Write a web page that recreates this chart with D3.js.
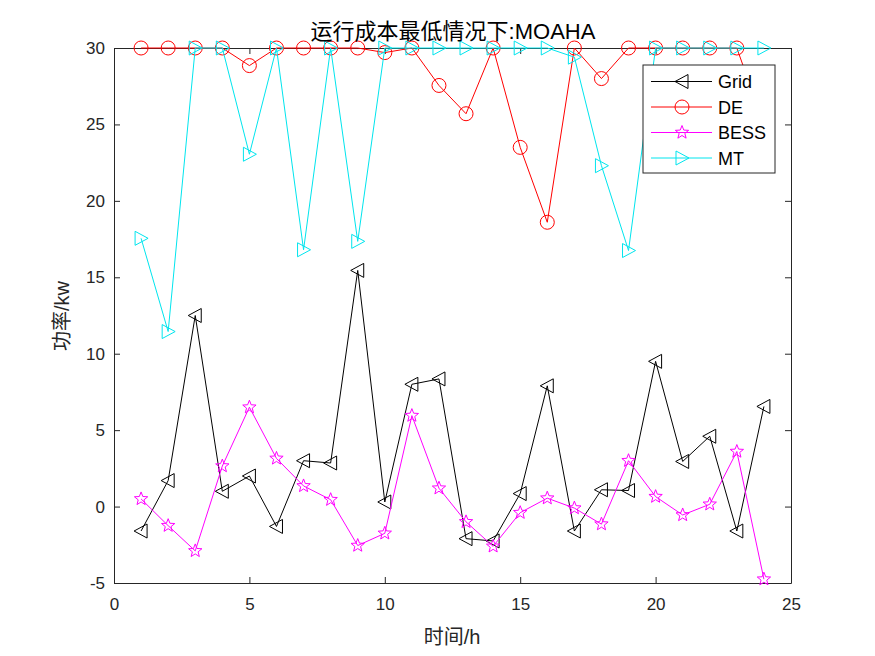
<!DOCTYPE html>
<html>
<head>
<meta charset="utf-8">
<script src="https://cdn.jsdelivr.net/npm/d3@7"></script>
<style>
  body { margin: 0; background: #fff; }
  svg text { font-family: "Liberation Sans", Arial, "Noto Sans CJK SC", sans-serif; }
</style>
</head>
<body>
<div id="canvas"></div>
<script>
"use strict"

// hours 1..24
let hours = d3.range(1, 25);

let gridValues = [-1.6, 1.7, 12.5, 1.0, 2.0, -1.3, 3.0, 2.85, 15.45, 0.3, 8.0, 8.35,
    -2.1, -2.25, 0.85, 7.9, -1.6, 1.1, 1.05, 9.5, 2.95, 4.6, -1.6, 6.55];
let deValues = [30, 30, 30, 30, 28.85, 30, 30, 30, 30, 29.7, 30, 27.55,
    25.7, 30, 23.5, 18.6, 30, 28.0, 30, 30, 30, 30, 30, 25];
let bessValues = [0.5, -1.25, -2.9, 2.65, 6.5, 3.15, 1.35, 0.45, -2.55, -1.75, 5.95, 1.2,
    -1.0, -2.6, -0.4, 0.55, -0.1, -1.15, 3.0, 0.65, -0.55, 0.15, 3.6, -4.75];
let mtValues = [17.55, 11.45, 30, 30, 23.05, 30, 16.8, 30, 17.35, 30, 30, 30,
    30, 30, 30, 30, 29.4, 22.3, 16.75, 30, 30, 30, 30, 30];

let xTicks = [0, 5, 10, 15, 20, 25];
let yTicks = [-5, 0, 5, 10, 15, 20, 25, 30];

let seriesNames = ["Grid", "DE", "BESS", "MT"];
let seriesColors = ["#000000", "#ff0000", "#ff00ff", "#00e5ee"];
let seriesMarkers = ["triLeft", "circle", "star", "triRight"];

let drawing = d3.select("#canvas")
    .append("svg")
    .attr("width", 875)
    .attr("height", 656);

let plotLeft = 114, plotRight = 791, plotTop = 48, plotBottom = 583;

let xScale = d3.scaleLinear().domain([0, 25]).range([plotLeft, plotRight]);
let yScale = d3.scaleLinear().domain([-5, 30]).range([plotBottom, plotTop]);

// plain hyphen for negatives, like the original
let plainNumber = d => String(d);

/* axes with inward ticks on all four sides */
let tickStyle = function (g) {
    g.select(".domain").attr("stroke", "#262626");
    g.selectAll(".tick line").attr("stroke", "#262626");
    g.selectAll(".tick text").attr("fill", "#262626").attr("font-size", 17);
};

drawing.append("g")
    .attr("transform", "translate(0," + plotBottom + ")")
    .call(d3.axisBottom(xScale).tickValues(xTicks).tickSizeInner(-6).tickSizeOuter(0)
        .tickPadding(15).tickFormat(plainNumber))
    .call(tickStyle);

drawing.append("g")
    .attr("transform", "translate(0," + plotTop + ")")
    .call(d3.axisTop(xScale).tickValues(xTicks).tickSizeInner(-6).tickSizeOuter(0).tickFormat(""))
    .call(tickStyle);

drawing.append("g")
    .attr("transform", "translate(" + plotLeft + ",0)")
    .call(d3.axisLeft(yScale).tickValues(yTicks).tickSizeInner(-6).tickSizeOuter(0)
        .tickPadding(9).tickFormat(plainNumber))
    .call(tickStyle);

drawing.append("g")
    .attr("transform", "translate(" + plotRight + ",0)")
    .call(d3.axisRight(yScale).tickValues(yTicks).tickSizeInner(-6).tickSizeOuter(0).tickFormat(""))
    .call(tickStyle);

/* marker shapes */
function markerPath(kind, cx, cy) {
    if (kind == "triLeft") {
        return "M" + (cx - 7) + "," + cy + "L" + (cx + 6) + "," + (cy - 7) + "L" + (cx + 6) + "," + (cy + 7) + "Z";
    }
    if (kind == "triRight") {
        return "M" + (cx + 7) + "," + cy + "L" + (cx - 6) + "," + (cy - 7) + "L" + (cx - 6) + "," + (cy + 7) + "Z";
    }
    if (kind == "star") {
        let pts = [];
        for (let i = 0; i < 10; i++) {
            let r = i % 2 == 0 ? 7 : 3;
            let a = -Math.PI / 2 + i * Math.PI / 5;
            pts.push((cx + r * Math.cos(a)).toFixed(2) + "," + (cy + r * Math.sin(a)).toFixed(2));
        }
        return "M" + pts.join("L") + "Z";
    }
    return "M" + (cx - 7) + "," + cy + "a7,7 0 1,0 14,0a7,7 0 1,0 -14,0Z";
}

let allValues = [gridValues, deValues, bessValues, mtValues];

let line = d3.line()
    .x((d, i) => xScale(hours[i]))
    .y(d => yScale(d));

allValues.forEach(function (values, s) {
    drawing.append("path")
        .attr("d", line(values))
        .attr("fill", "none")
        .attr("stroke", seriesColors[s])
        .attr("stroke-width", 1);

    drawing.append("g")
        .selectAll("path")
        .data(values)
        .join("path")
        .attr("d", (d, i) => markerPath(seriesMarkers[s], xScale(hours[i]), yScale(d)))
        .attr("fill", "none")
        .attr("stroke", seriesColors[s])
        .attr("stroke-width", 1);
});

/* legend */
let legend = drawing.append("g");
legend.append("rect")
    .attr("x", 643)
    .attr("y", 65)
    .attr("width", 132)
    .attr("height", 108)
    .attr("fill", "white")
    .attr("stroke", "#262626")
    .attr("stroke-width", 1);

seriesNames.forEach(function (name, s) {
    let ly = 81.5 + s * 25.5;
    legend.append("line")
        .attr("x1", 651).attr("x2", 712)
        .attr("y1", ly).attr("y2", ly)
        .attr("stroke", seriesColors[s]);
    legend.append("path")
        .attr("d", markerPath(seriesMarkers[s], 682, ly))
        .attr("fill", "none")
        .attr("stroke", seriesColors[s]);
    legend.append("text")
        .attr("x", 718)
        .attr("y", ly + 6.5)
        .attr("font-size", 18)
        .attr("fill", "#000")
        .text(name);
});

/* titles */
drawing.append("text")
    .attr("x", 453)
    .attr("y", 39)
    .attr("text-anchor", "middle")
    .attr("font-size", 22)
    .attr("fill", "#000")
    .text("运行成本最低情况下:MOAHA");

drawing.append("text")
    .attr("x", 452)
    .attr("y", 644)
    .attr("text-anchor", "middle")
    .attr("font-size", 20)
    .attr("fill", "#262626")
    .text("时间/h");

drawing.append("text")
    .attr("transform", "translate(69,316) rotate(-90)")
    .attr("text-anchor", "middle")
    .attr("font-size", 20)
    .attr("fill", "#262626")
    .text("功率/kw");
</script>
</body>
</html>
